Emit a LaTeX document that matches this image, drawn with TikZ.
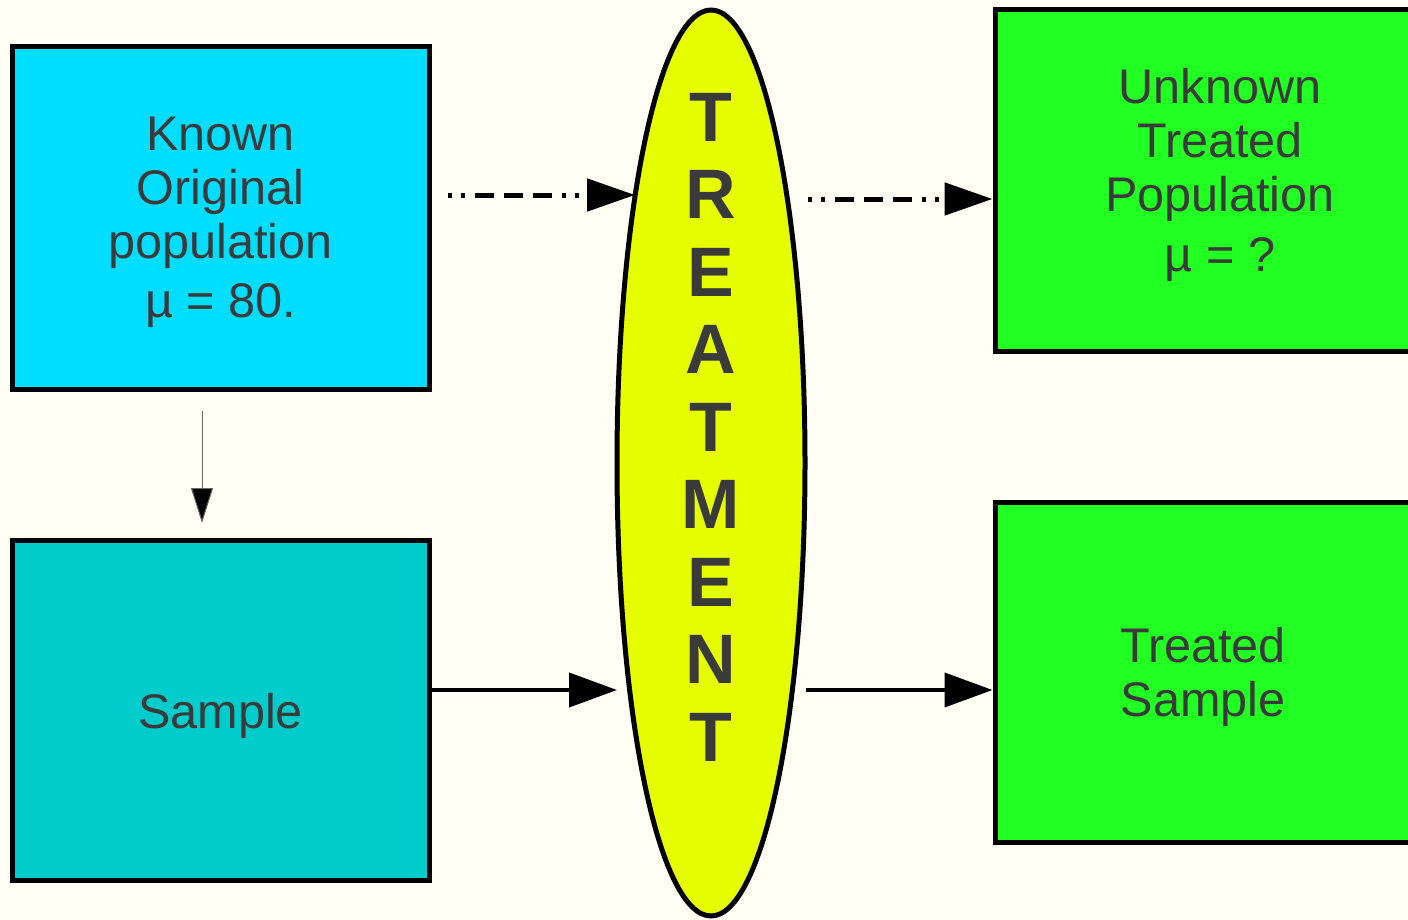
\documentclass[tikz,border=0pt]{standalone}
\usepackage{fontspec}
\setmainfont{Liberation Sans}
\usepackage{xcolor}
\usepackage{tikz}
\usetikzlibrary{arrows.meta,shapes.geometric}

\definecolor{knowncol}{HTML}{00DDFF}
\definecolor{samplecol}{HTML}{00CCCC}
\definecolor{treatcol}{HTML}{E6FF00}
\definecolor{greencol}{HTML}{22FF22}
\definecolor{inkcol}{HTML}{3A3A3A}
\definecolor{paper}{HTML}{FFFFF6}

\tikzset{
    box/.style={draw=black,line width=2.5pt,rectangle,inner sep=0pt,text=inkcol,
        align=center,font=\fontsize{24.3}{27}\selectfont},
    flow/.style={line width=2pt,-{Triangle[length=24pt,width=17pt]}},
    dotdash/.style={line width=2.5pt,-{Triangle[length=24pt,width=16pt]},
        dash pattern=on 2pt off 4.5pt on 2pt off 5pt on 9.5pt off 5pt on 9.5pt off 5pt
        on 9.5pt off 5pt on 2pt off 4.5pt on 2pt off 4.5pt},
}

\begin{document}
\begin{tikzpicture}[x=0.5pt,y=-0.5pt]
    % page and paper
    \useasboundingbox (0,0) rectangle (1408,920);
    \clip (0,0) rectangle (1408,920);
    \fill[paper] (0,0) rectangle (1408,920);
    % Original population and sample
    \node[box,fill=knowncol,minimum width=208.5pt,minimum height=171pt] (known) at (220.5,218)
        {\rule{0pt}{21pt}Known\\Original\\population\\[2.5pt]µ = 80.};
    \node[box,fill=samplecol,minimum width=208.5pt,minimum height=170pt] (sample) at (220.5,710)
        {\rule{0pt}{24pt}Sample};
    % Treatment
    \node[draw=black,line width=2.5pt,ellipse,fill=treatcol,inner sep=0pt,
        minimum width=94pt,minimum height=453pt] (treat) at (711,463) {};
    \node[text=inkcol,align=center,font=\bfseries\fontsize{35}{38.75}\selectfont] (word) at (711,427)
        {T\\R\\E\\A\\T\\M\\E\\N\\T};
    % Treated population and sample
    \node[box,fill=greencol,minimum width=225pt,minimum height=170.5pt] (unknown) at (1220,180.5)
        {Unknown\\Treated\\Population\\[3pt]µ = ?\rule[-11pt]{0pt}{11pt}};
    \node[box,fill=greencol,minimum width=208pt,minimum height=170pt] (treated) at (1203,672)
        {\rule{0pt}{23pt}Treated\\Sample};
    % free ends of the connectors
    \coordinate (down0) at (202,411);
    \coordinate (down1) at (202,523);
    \coordinate (dash0) at (448,195);
    \coordinate (dash1) at (635,195);
    \coordinate (dash2) at (808,199);
    \coordinate (solid0) at (430,690);
    \coordinate (solid1) at (617,690);
    \coordinate (solid2) at (806,690);
    % Connectors
    \draw[draw=black!60,line width=0.5pt,-{Triangle[length=17.5pt,width=11pt,fill=black]}] (down0) -- (down1);
    \draw[dotdash] (dash0) -- (dash1);
    \draw[dotdash] (dash2) -- (dash2 -| unknown.west);
    \draw[flow] (solid0) -- (solid1);
    \draw[flow] (solid2) -- (solid2 -| treated.west);
\end{tikzpicture}
\end{document}
